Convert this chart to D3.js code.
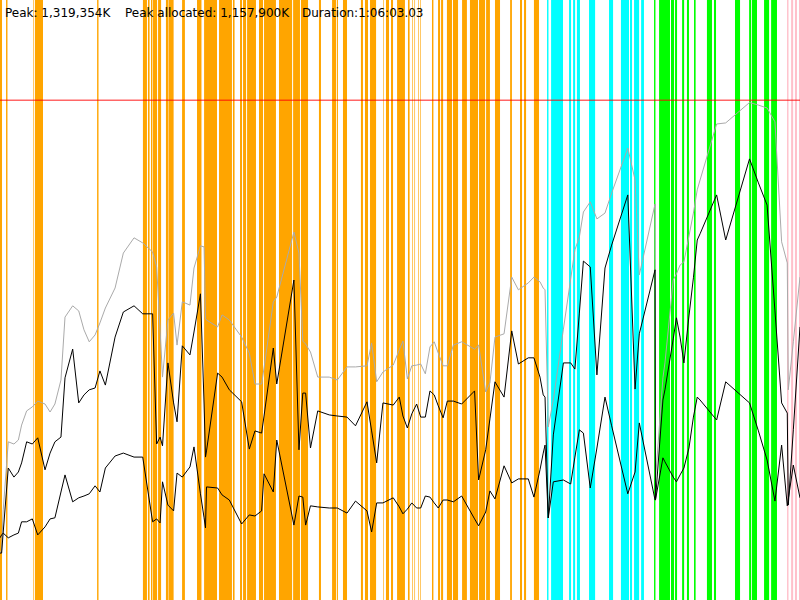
<!DOCTYPE html>
<html>
<head>
<meta charset="utf-8">
<script src="https://cdn.jsdelivr.net/npm/d3@7"></script>
<style>
  body { margin: 0; background: #fff; }
  #chart { width: 800px; height: 600px; }
</style>
</head>
<body>
<div id="chart"></div>
<script>
// sample times in seconds (run lasted 1:06:03.03)
let sampleSec = [0, 8, 16, 41, 69, 91, 107, 132, 160, 187, 223, 248, 272, 302, 322, 360, 390, 416, 442, 471,
  495, 522, 570, 611, 664, 707, 756, 776, 793, 805, 832, 860, 877, 903, 941, 961, 993, 1011, 1018, 1023,
  1078, 1100, 1136, 1197, 1235, 1263, 1296, 1308, 1354, 1371, 1456, 1481, 1500, 1514, 1538, 1574, 1631, 1671, 1719, 1761,
  1818, 1841, 1866, 1897, 1948, 1978, 1996, 2018, 2040, 2064, 2084, 2107, 2130, 2151, 2171, 2195, 2216, 2246, 2287, 2351,
  2371, 2406, 2427, 2452, 2497, 2535, 2568, 2617, 2645, 2675, 2691, 2700, 2716, 2741, 2791, 2827, 2848, 2870, 2890, 2924,
  2957, 2997, 3030, 3110, 3146, 3167, 3245, 3247, 3284, 3294, 3335, 3351, 3369, 3388, 3413, 3435, 3454, 3468, 3550, 3595,
  3713, 3757, 3800, 3839, 3872, 3900, 3905, 3930, 3963]

// memory, thousands of K
let totalK = [74, 83, 193, 380, 374, 385, 426, 465, 476, 492, 484, 462, 484, 550, 723, 754, 740, 688, 655, 674,
  707, 748, 803, 899, 941, 927, 902, 861, 688, 558, 715, 734, 646, 765, 756, 858, 919, 916, 718, 715,
  696, 729, 715, 668, 624, 539, 539, 583, 765, 778, 957, 899, 657, 649, 627, 558, 558, 550, 586, 586,
  589, 652, 545, 572, 591, 633, 657, 553, 589, 591, 594, 567, 641, 655, 624, 589, 589, 646, 655, 635,
  646, 517, 542, 668, 677, 833, 798, 817, 833, 820, 803, 798, 421, 495, 690, 828, 908, 943, 1012, 1040,
  993, 1009, 1064, 1188, 1100, 839, 1034, 275, 556, 597, 825, 842, 866, 875, 946, 1009, 1073, 1100, 1254, 1257,
  1313, 1306, 1298, 1260, 930, 872, 523, 655, 833]

let allocK = [74, 74, 132, 308, 283, 297, 322, 380, 374, 391, 303, 349, 380, 393, 556, 635, 487, 509, 523, 528,
  575, 536, 668, 737, 754, 732, 732, 374, 393, 369, 597, 487, 435, 644, 619, 682, 787, 484, 338, 355,
  569, 558, 523, 490, 360, 410, 404, 451, 638, 539, 825, 358, 514, 514, 363, 465, 454, 451, 448, 424,
  490, 410, 322, 487, 481, 503, 451, 418, 457, 484, 448, 448, 520, 509, 479, 446, 492, 492, 484, 520,
  275, 358, 443, 545, 503, 685, 594, 611, 611, 558, 509, 503, 171, 399, 597, 597, 580, 734, 877, 861,
  564, 858, 921, 1059, 525, 677, 853, 220, 495, 523, 663, 721, 668, 597, 726, 831, 935, 952, 1059, 935,
  1158, 1092, 1031, 740, 487, 459, 206, 413, 696]

let liveK = [116, 124, 129, 116, 124, 129, 160, 160, 168, 124, 146, 168, 171, 242, 289, 215, 226, 231, 237, 259,
  242, 308, 341, 349, 338, 338, 160, 168, 157, 270, 206, 190, 294, 283, 311, 366, 237, 171, 143, 256,
  253, 234, 220, 154, 179, 176, 190, 292, 242, 385, 151, 231, 228, 151, 204, 201, 198, 198, 184, 217,
  190, 132, 212, 212, 226, 201, 182, 195, 212, 198, 198, 231, 228, 212, 198, 220, 220, 215, 231, 168,
  149, 187, 245, 223, 314, 267, 278, 278, 228, 303, 349, 371, 171, 270, 275, 264, 338, 413, 404, 253,
  363, 503, 424, 237, 297, 432, 220, 220, 336, 325, 283, 270, 289, 308, 363, 448, 503, 495, 440, 545,
  487, 410, 330, 217, 371, 204, 223, 316, 226]

// activity phases, [start, end] in seconds
let orangeBands = [[0, 10], [30, 37], [164, 167], [173, 213], [481, 488], [708, 728], [733, 741], [748, 755], [758, 778],
  [783, 798], [822, 835], [837, 860], [902, 916], [976, 998], [1011, 1075], [1085, 1149], [1154, 1162], [1189, 1199],
  [1204, 1219], [1224, 1268], [1283, 1303], [1308, 1367], [1382, 1447], [1452, 1486], [1491, 1526], [1580, 1590],
  [1645, 1665], [1669, 1674], [1699, 1719], [1788, 1798], [1808, 1823], [1833, 1863], [1898, 1901], [1912, 1927],
  [1937, 1947], [1967, 2006], [2021, 2029], [2041, 2044], [2053, 2056], [2071, 2074], [2081, 2084], [2140, 2147],
  [2170, 2180], [2185, 2195], [2214, 2239], [2244, 2269], [2289, 2313], [2328, 2368], [2373, 2403], [2408, 2427],
  [2452, 2477], [2527, 2536], [2576, 2586], [2596, 2606], [2645, 2670]]
let cyanBands = [[2710, 2717], [2730, 2789], [2819, 2829], [2839, 2849], [2858, 2873], [2918, 2948], [3017, 3037],
  [3076, 3116], [3121, 3131], [3141, 3166], [3176, 3190]]
let greenBands = [[3240, 3247], [3265, 3319], [3324, 3339], [3344, 3354], [3379, 3389], [3403, 3413], [3438, 3446],
  [3502, 3527], [3537, 3547], [3641, 3666], [3711, 3721], [3725, 3750], [3785, 3810], [3820, 3849]]
let pinkBands = [[3899, 3906], [3919, 3929], [3938, 3948], [3958, 3963]]

let peakK = 1319.354
let labels = ['Peak: 1,319,354K', 'Peak allocated: 1,157,900K', 'Duration:1:06:03.03']
let labelX = [5, 125, 302]

let width = 800
let height = 600

let xScale = d3.scaleLinear([0, 3963.03], [0, width])
let yScale = d3.scaleLinear([0, 1595], [height - 20, 0])

let svg = d3.select('#chart')
  .append('svg')
  .attr('width', width)
  .attr('height', height)
let g = svg.append('g')

// 背景色带
let bandSets = [[orangeBands, '#ffa500'], [cyanBands, '#00ffff'], [greenBands, '#00ff00'], [pinkBands, '#ffc0cb']]
bandSets.forEach(([bands, color]) => {
  g.append('g').selectAll('rect').data(bands).enter().append('rect')
    .attr('x', d => xScale(d[0]))
    .attr('y', 0)
    .attr('width', d => xScale(d[1]) - xScale(d[0]))
    .attr('height', height)
    .attr('fill', color)
})

// peak line
g.append('line')
  .attr('x1', 0)
  .attr('x2', width)
  .attr('y1', yScale(peakK))
  .attr('y2', yScale(peakK))
  .attr('stroke', 'red')
  .attr('stroke-opacity', 0.6)
  .attr('stroke-width', 1.5)

let series = [[totalK, '#aaa'], [allocK, '#000'], [liveK, '#000']]
series.forEach(([vals, color]) => {
  let line = d3.line()
    .x((d, i) => xScale(sampleSec[i]))
    .y(d => yScale(d))
  g.append('path')
    .datum(vals)
    .attr('d', line)
    .attr('fill', 'none')
    .attr('stroke', color)
    .attr('stroke-width', 1)
})

g.selectAll('text.label').data(labels).enter().append('text')
  .attr('class', 'label')
  .attr('x', (d, i) => labelX[i])
  .attr('y', 17)
  .attr('font-family', 'DejaVu Sans, sans-serif')
  .attr('font-size', 12)
  .attr('fill', '#000')
  .text(d => d)
</script>
</body>
</html>
